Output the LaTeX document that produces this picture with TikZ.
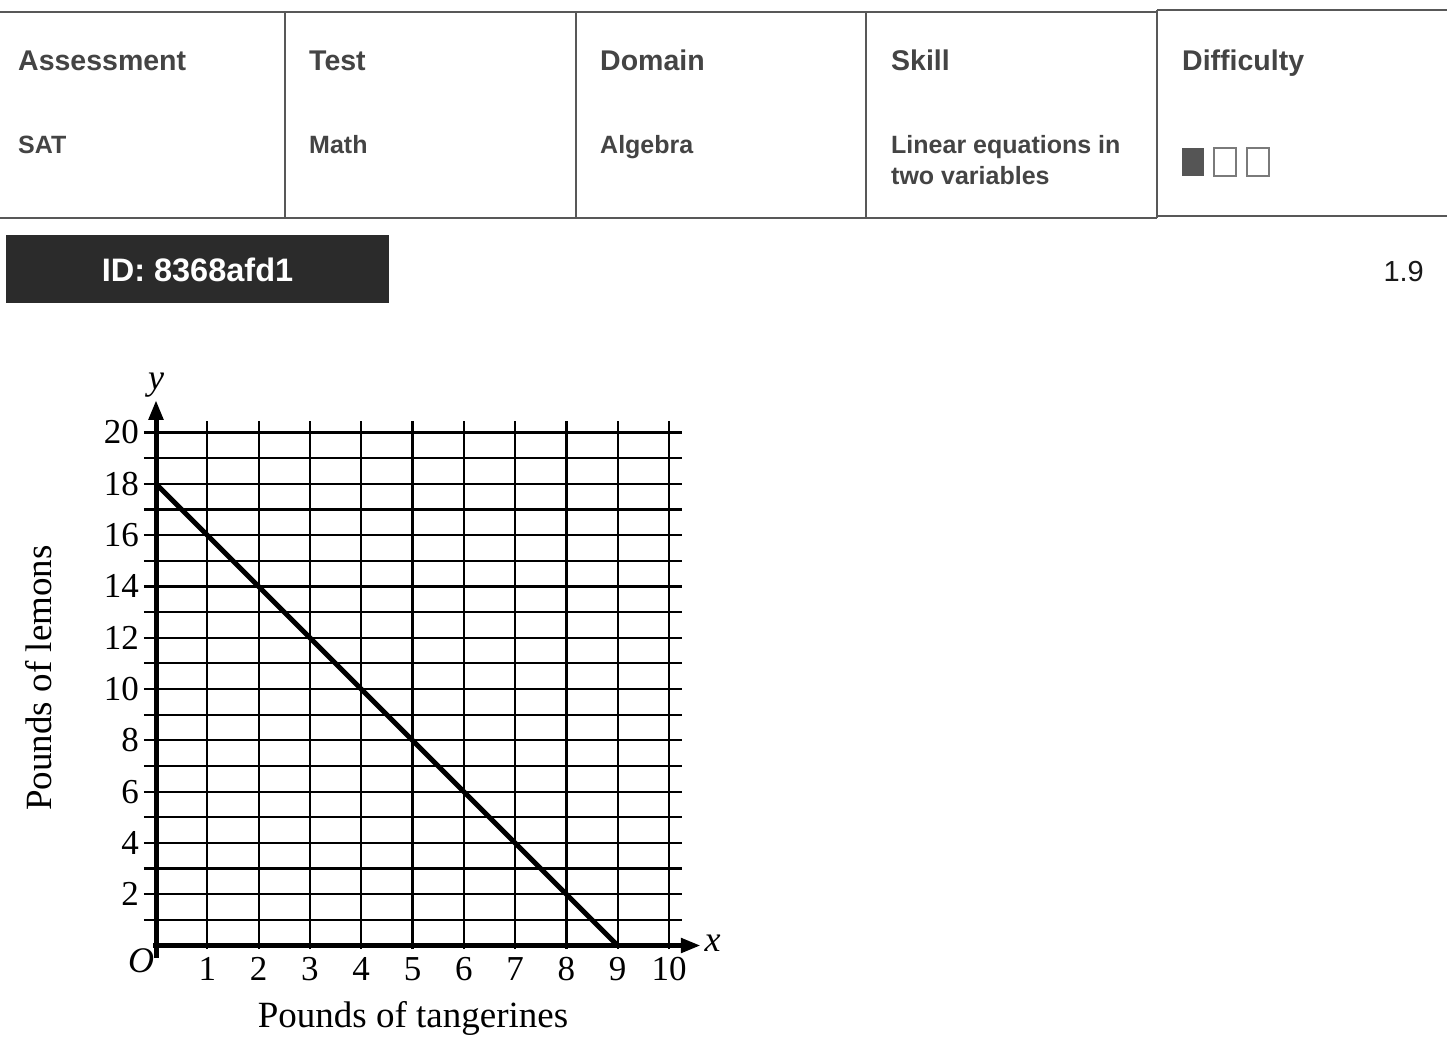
\documentclass[tikz,border=0pt]{standalone}
\usepackage{fontspec}
\setmainfont{Liberation Serif}
\newfontfamily\hdrfont{Liberation Sans}
\usetikzlibrary{arrows.meta}
\definecolor{txtgray}{HTML}{444444}
\definecolor{linegray}{HTML}{585858}
\definecolor{idbg}{HTML}{2B2B2B}
\definecolor{boxgray}{HTML}{555555}
\definecolor{boxline}{HTML}{7A7A7A}
\begin{document}
\begin{tikzpicture}[x=1pt,y=-1pt,
  hd/.style={anchor=base west, inner sep=0pt, font=\hdrfont\bfseries\fontsize{28.5}{30}\selectfont, text=txtgray},
  vl/.style={anchor=base west, inner sep=0pt, font=\hdrfont\bfseries\fontsize{25}{30}\selectfont, text=txtgray, align=left},
  rulel/.style={draw=linegray, line width=2pt},
  gridl/.style={draw=black, line width=2.2pt},
  axisl/.style={draw=black, line width=5pt},
  tickl/.style={font=\fontsize{35}{38}\selectfont, inner sep=0pt},
  itl/.style={font=\itshape\fontsize{36}{38}\selectfont, inner sep=0pt},
  axt/.style={font=\fontsize{37}{40}\selectfont, inner sep=0pt},
  dbox/.style={draw=boxline, line width=1.5pt}
]
\path[use as bounding box] (0,0) rectangle (1447,1052);
\fill[white] (0,0) rectangle (1447,1052);

% table rules
\draw[rulel] (0,12) -- (1157,12);
\draw[rulel] (1157,10) -- (1447,10);
\draw[rulel] (0,218) -- (1157,218);
\draw[rulel] (1157,216) -- (1447,216);
\foreach \xx in {285,576,866} \draw[rulel] (\xx,12) -- (\xx,218);
\draw[rulel] (1157,10) -- (1157,218);

% header texts
\node[hd] (hA) at (18,70) {Assessment};
\node[hd] (hT) at (309,70) {Test};
\node[hd] (hD) at (600,70) {Domain};
\node[hd] (hS) at (891,70) {Skill};
\node[hd] (hF) at (1182,70) {Difficulty};
\node[vl] (vA) at (18,153) {SAT};
\node[vl] (vT) at (309,153) {Math};
\node[vl] (vD) at (600,153) {Algebra};
\node[vl] (vS1) at (891,153) {Linear equations in};
\node[vl] (vS2) at (891,184) {two variables};

% difficulty boxes
\fill[boxgray] (1182,148) rectangle (1204,176);
\draw[dbox] (1214,148) rectangle (1236,176);
\draw[dbox] (1247,148) rectangle (1269,176);

% ID box
\fill[idbg] (6,235) rectangle (389,303);
\node[font=\hdrfont\bfseries\fontsize{32.5}{34}\selectfont, text=white, anchor=base, inner sep=0pt] (idt) at (197.5,281) {ID: 8368afd1};
\node[font=\hdrfont\fontsize{29}{32}\selectfont, text=black!90, anchor=base east, inner sep=0pt] (ver) at (1424,281) {1.9};

% graph
\begin{scope}[shift={(156pt,-945.5pt)}, x=51.3pt, y=25.65pt]
  \foreach \i in {1,...,20} \draw[gridl] (-0.234,\i) -- (10.25,\i);
  \foreach \i in {1,...,10} \draw[gridl] (\i,-0.14) -- (\i,20.45);
  \coordinate (yb) at (0,-0.49);
  \coordinate (yt) at (0,21.27);
  \coordinate (xl) at (-0.05,0);
  \coordinate (xr) at (10.62,0);
  \draw[axisl, -{Triangle[length=20pt,width=14pt]}] (yb) -- (yt);
  \draw[axisl, -{Triangle[length=20pt,width=14pt]}] (xl) -- (xr);
  \coordinate (p1) at (0,18);
  \coordinate (p2) at (9,0);
  \draw[line width=5pt] (p1) -- (p2);
  \foreach \i in {2,4,...,20} \node[tickl, anchor=east] (yl\i) at (-0.33,\i) {\i};
  \foreach \i in {1,...,10} \node[tickl, anchor=base] (xl\i) at (\i,-1.38) {\i};
  \node[itl] (orig) at (-0.29,-0.6) {O};
  \node[itl] (ylab) at (0.0,21.85) {y};
  \node[itl] (xlab) at (10.85,0.08) {x};
  \node[axt] (xt) at (5.01,-2.84) {Pounds of tangerines};
  \node[axt, rotate=90] (yt2) at (-2.28,10.43) {Pounds of lemons};
\end{scope}
\end{tikzpicture}
\end{document}
